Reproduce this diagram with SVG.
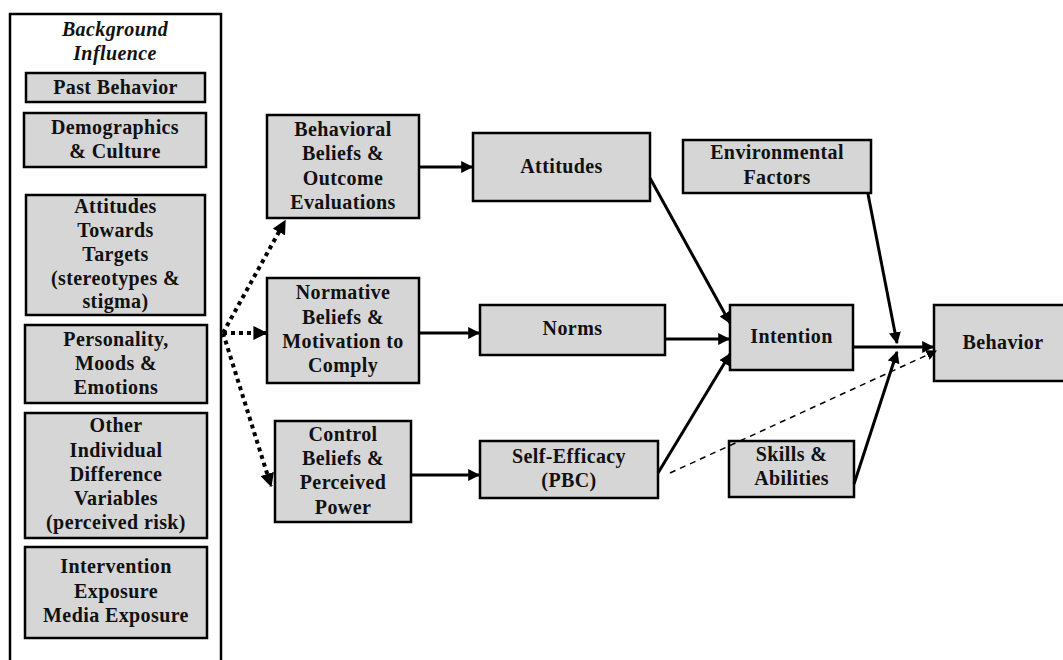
<svg xmlns="http://www.w3.org/2000/svg" width="1063" height="660" viewBox="0 0 1063 660">
<defs>
<style>
.box{fill:#d6d6d6;stroke:#000;stroke-width:2.5}
.t{font-family:"Liberation Serif","Times New Roman",serif;font-weight:bold;font-size:20px;fill:#111;text-anchor:middle;letter-spacing:0.4px}
.ti{font-style:italic;font-size:20px}
.solid{stroke:#000;stroke-width:3;fill:none}
.dot{stroke:#000;stroke-width:4;fill:none;stroke-dasharray:4 4}
.dash{stroke:#000;stroke-width:1.5;fill:none;stroke-dasharray:6 5}
</style>
<marker id="ah" viewBox="0 0 10 10" refX="9" refY="5" markerWidth="4" markerHeight="4" orient="auto" markerUnits="strokeWidth">
<path d="M0,0 L10,5 L0,10 z" fill="#000"/>
</marker>
<marker id="ahd" viewBox="0 0 10 10" refX="9" refY="5" markerWidth="3.5" markerHeight="3.5" orient="auto" markerUnits="strokeWidth">
<path d="M0,0 L10,5 L0,10 z" fill="#000"/>
</marker>
<marker id="ahs" viewBox="0 0 10 10" refX="9" refY="5" markerWidth="7" markerHeight="7" orient="auto" markerUnits="strokeWidth">
<path d="M0,0 L10,5 L0,10 z" fill="#000"/>
</marker>
</defs>
<rect width="1063" height="660" fill="#fff"/>

<g id="background-influence">
<rect x="10" y="14" width="211" height="660" fill="#fff" stroke="#000" stroke-width="2.5"/>
<text class="t ti" x="115" y="36">Background</text>
<text class="t ti" x="115" y="60">Influence</text>
</g>
<g id="past-behavior"><rect class="box" x="26" y="73" width="179" height="29"/><text class="t" x="115.5" y="94">Past Behavior</text></g>
<g id="demographics"><rect class="box" x="24" y="113" width="182" height="54"/><text class="t" x="115" y="134">Demographics</text><text class="t" x="115" y="158">&amp; Culture</text></g>
<g id="attitudes-targets"><rect class="box" x="26" y="195" width="179" height="120"/><text class="t" x="115.5" y="213">Attitudes</text><text class="t" x="115.5" y="237">Towards</text><text class="t" x="115.5" y="261">Targets</text><text class="t" x="115.5" y="285">(stereotypes &amp;</text><text class="t" x="115.5" y="308">stigma)</text></g>
<g id="personality"><rect class="box" x="25" y="325" width="182" height="78"/><text class="t" x="116" y="346">Personality,</text><text class="t" x="116" y="370">Moods &amp;</text><text class="t" x="116" y="394">Emotions</text></g>
<g id="other-individual"><rect class="box" x="25" y="413" width="182" height="125"/><text class="t" x="116" y="432">Other</text><text class="t" x="116" y="457">Individual</text><text class="t" x="116" y="481">Difference</text><text class="t" x="116" y="505">Variables</text><text class="t" x="116" y="529">(perceived risk)</text></g>
<g id="intervention"><rect class="box" x="25" y="547" width="182" height="91"/><text class="t" x="116" y="573">Intervention</text><text class="t" x="116" y="598">Exposure</text><text class="t" x="116" y="622">Media Exposure</text></g>

<g id="behavioral-beliefs"><rect class="box" x="267" y="115" width="152" height="103"/><text class="t" x="343" y="136">Behavioral</text><text class="t" x="343" y="160">Beliefs &amp;</text><text class="t" x="343" y="185">Outcome</text><text class="t" x="343" y="209">Evaluations</text></g>
<g id="normative-beliefs"><rect class="box" x="267" y="278" width="152" height="105"/><text class="t" x="343" y="299">Normative</text><text class="t" x="343" y="324">Beliefs &amp;</text><text class="t" x="343" y="348">Motivation to</text><text class="t" x="343" y="372">Comply</text></g>
<g id="control-beliefs"><rect class="box" x="275" y="421" width="136" height="101"/><text class="t" x="343" y="441">Control</text><text class="t" x="343" y="465">Beliefs &amp;</text><text class="t" x="343" y="489">Perceived</text><text class="t" x="343" y="514">Power</text></g>

<g id="attitudes"><rect class="box" x="473" y="133" width="177" height="68"/><text class="t" x="561.5" y="173">Attitudes</text></g>
<g id="norms"><rect class="box" x="480" y="305" width="185" height="50"/><text class="t" x="572.5" y="335">Norms</text></g>
<g id="self-efficacy"><rect class="box" x="480" y="441" width="178" height="57"/><text class="t" x="569" y="463">Self-Efficacy</text><text class="t" x="569" y="487">(PBC)</text></g>

<g id="environmental-factors"><rect class="box" x="683" y="140" width="188" height="53"/><text class="t" x="777" y="159">Environmental</text><text class="t" x="777" y="184">Factors</text></g>
<g id="intention"><rect class="box" x="730" y="305" width="123" height="65"/><text class="t" x="791.5" y="343">Intention</text></g>
<g id="skills"><rect class="box" x="729" y="441" width="125" height="56"/><text class="t" x="791.5" y="461">Skills &amp;</text><text class="t" x="791.5" y="485">Abilities</text></g>
<g id="behavior"><rect class="box" x="934" y="305" width="140" height="76"/><text class="t" x="1003" y="349">Behavior</text></g>

<g id="connectors">
<line class="dot" x1="223" y1="333" x2="285" y2="221" marker-end="url(#ahd)"/>
<line class="dot" x1="223" y1="333" x2="266" y2="333" marker-end="url(#ahd)"/>
<line class="dot" x1="223" y1="333" x2="271" y2="486" marker-end="url(#ahd)"/>
<line class="solid" x1="419" y1="167" x2="472" y2="167" marker-end="url(#ah)"/>
<line class="solid" x1="419" y1="333" x2="479" y2="333" marker-end="url(#ah)"/>
<line class="solid" x1="411" y1="475" x2="479" y2="475" marker-end="url(#ah)"/>
<line class="solid" x1="650" y1="178" x2="730" y2="323" marker-end="url(#ah)"/>
<line class="solid" x1="665" y1="339" x2="729" y2="339" marker-end="url(#ah)"/>
<line class="solid" x1="658" y1="473" x2="730" y2="354" marker-end="url(#ah)"/>
<line class="solid" x1="853" y1="347" x2="933" y2="347" marker-end="url(#ah)"/>
<line class="solid" x1="868" y1="194" x2="897" y2="343" marker-end="url(#ah)"/>
<line class="solid" x1="854" y1="484" x2="897" y2="352" marker-end="url(#ah)"/>
<line class="dash" x1="670" y1="473" x2="936" y2="351" marker-end="url(#ahs)"/>
</g>
</svg>
